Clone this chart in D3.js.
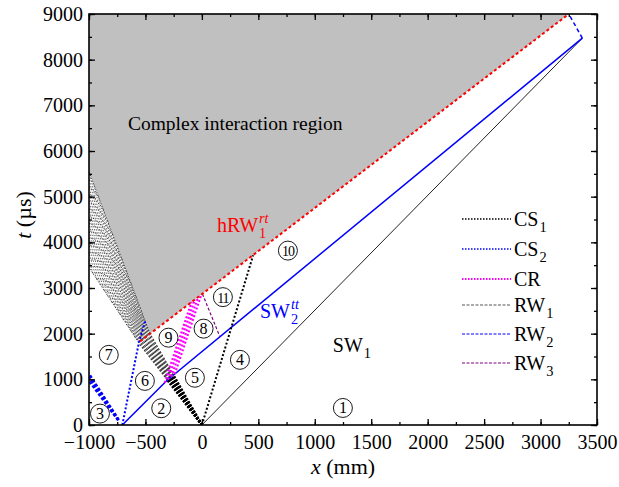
<!DOCTYPE html>
<html>
<head>
<meta charset="utf-8">
<script src="https://cdn.jsdelivr.net/npm/d3@7"></script>
<style>
  body { margin: 0; background: #fff; }
  text { font-family: "Liberation Serif", "Times New Roman", serif; }
</style>
</head>
<body>
<div id="chart"></div>
<script>
// ---- data (x in mm, t in µs) ----
const xTicks = [-1000, -500, 0, 500, 1000, 1500, 2000, 2500, 3000, 3500];
const yTicks = [0, 1000, 2000, 3000, 4000, 5000, 6000, 7000, 8000, 9000];

const sw1 = [[0, 0], [3370, 8470]];
const sw2 = [[-705, 0], [-310, 975], [3370, 8470]];
const hrw1 = [[-548, 1830], [3250, 9000]];
const topJoin = [[3370, 8470], [3250, 9000]];
const cs1 = [[0, 0], [454, 3717]];
const cs2 = [[-705, 0], [-558, 1805], [-500, 2300]];
const rw3 = [[5, 2870], [160, 1930]];
const greyRegion = [[-1000, 9000], [3250, 9000], [-460, 2000], [-1000, 5550]];

// RW1 fan from the origin, ends along the apex segment
const rw1FanEnds = [[-560, 1800], [-549, 1822], [-538, 1844], [-527, 1867], [-516, 1889],
                    [-504, 1911], [-493, 1933], [-482, 1956], [-471, 1978], [-460, 2000]];
// RW1 continued to the left wall: apex segment and wall span
const hatchApex = [[-560, 1800], [-460, 2000]];
const hatchWall = [3450, 5550];
const hatchCells = 13;

// CR fan: start x on SW2, constant slope up to hRW1
const crStartX = [-330, -300, -270, -240];
const crSlope = 7.4;

// RW2 fan near the left wall
const rw2Fan = [
  [[-745, 100], [-1000, 950]],
  [[-742, 104], [-1000, 1000]],
  [[-739, 108], [-1000, 1050]],
  [[-736, 112], [-1000, 1095]],
  [[-733, 116], [-1000, 1140]]
];

const zones = [
  ["1", 1249, 373], ["2", -360, 367], ["3", -903, 250], ["4", 337, 1427],
  ["5", -62, 1035], ["6", -505, 966], ["7", -825, 1536], ["8", 15, 2110],
  ["9", -296, 1912], ["10", 762, 3819], ["11", 186, 2800]
];

const legendItems = [
  ["CS", "1", "#000", "1.5,1.5", 1.5],
  ["CS", "2", "#0000ff", "1.5,1.5", 1.5],
  ["CR", "", "#ff00ff", "1.5,1.5", 2],
  ["RW", "1", "#555", "3,1.5", 1],
  ["RW", "2", "#0000ff", "3,1.5", 1],
  ["RW", "3", "#800080", "3,1.5", 1]
];
const legendY = [219, 249, 279, 305, 334, 363];

// ---- setup ----
const width = 619, height = 487;
const x = d3.scaleLinear().domain([-1000, 3500]).range([89, 597]);
const y = d3.scaleLinear().domain([0, 9000]).range([425, 14]);

const svg = d3.select("#chart").append("svg")
  .attr("width", width).attr("height", height);

svg.append("defs").append("clipPath").attr("id", "plot")
  .append("rect").attr("x", x(-1000)).attr("y", y(9000))
  .attr("width", x(3500) - x(-1000)).attr("height", y(0) - y(9000));

const line = d3.line().x(d => x(d[0])).y(d => y(d[1]));
const g = svg.append("g").attr("clip-path", "url(#plot)");

function draw(pts, color, dash, w) {
  return g.append("path").attr("d", line(pts)).attr("fill", "none")
    .attr("stroke", color).attr("stroke-width", w)
    .attr("stroke-dasharray", dash);
}

// segment intersection helper
function intersect(a, b, c, d) {
  const den = (b[0] - a[0]) * (d[1] - c[1]) - (b[1] - a[1]) * (d[0] - c[0]);
  if (Math.abs(den) < 1e-9) return null;
  const s = ((c[0] - a[0]) * (d[1] - c[1]) - (c[1] - a[1]) * (d[0] - c[0])) / den;
  const u = ((c[0] - a[0]) * (b[1] - a[1]) - (c[1] - a[1]) * (b[0] - a[0])) / den;
  if (s < 0 || s > 1 || u < 0 || u > 1) return null;
  return [a[0] + s * (b[0] - a[0]), a[1] + s * (b[1] - a[1])];
}
function hitPolyline(a, b, poly) {
  for (let i = 0; i < poly.length - 1; i++) {
    const p = intersect(a, b, poly[i], poly[i + 1]);
    if (p) return p;
  }
  return null;
}

// grey region
g.append("path").attr("d", line(greyRegion) + "Z").attr("fill", "#c0c0c0");

// RW1 hatch (bilinear lattice between apex segment and the wall)
const [E0, E1] = hatchApex;
const W0 = [-1000, hatchWall[0]], W1 = [-1000, hatchWall[1]];
function bil(u, v) {
  const a = [(1 - v) * E0[0] + v * E1[0], (1 - v) * E0[1] + v * E1[1]];
  const b = [(1 - v) * W0[0] + v * W1[0], (1 - v) * W0[1] + v * W1[1]];
  return [(1 - u) * a[0] + u * b[0], (1 - u) * a[1] + u * b[1]];
}
for (let k = 1; k < 2 * hatchCells; k++) {
  const c = k / hatchCells;
  const pts = d3.range(9).map(i => {
    const u = Math.max(0, c - 1) + (Math.min(1, c) - Math.max(0, c - 1)) * i / 8;
    return bil(u, c - u);
  });
  draw(pts, "#222", "1.5,1.5", 0.7);
}
for (let k = -hatchCells + 1; k < hatchCells; k++) {
  const c = k / hatchCells;
  const pts = d3.range(9).map(i => {
    const u = Math.max(0, c) + (Math.min(1, 1 + c) - Math.max(0, c)) * i / 8;
    return bil(u, u - c);
  });
  draw(pts, "#222", "1.5,1.5", 0.7);
}
draw([E0, W0], "#222", "1.5,1.5", 0.7);
draw([E1, W1], "#222", "1.5,1.5", 0.7);

// RW1 fan from origin: thick below SW2, thinner above
rw1FanEnds.forEach(e => {
  const p = hitPolyline([0, 0], e, sw2);
  draw([[0, 0], p], "#000", "2,1.6", 2.4);
  draw([p, e], "#333", "2,1.6", 1.2);
});

// RW2 fan
rw2Fan.forEach(s => draw(s, "#0000ff", "3,2", 1.6));

// main waves
draw(sw1, "#222", null, 1);
draw(sw2, "#0000ff", null, 1.5);
draw(cs2, "#0000ff", "2,2", 2);

// CR fan
crStartX.forEach(x0 => {
  const a = [x0, -1e5], b = [x0, 1e5];
  const s = hitPolyline(a, b, sw2);
  const far = [s[0] + 2000, s[1] + 2000 * crSlope];
  const e = hitPolyline(s, far, hrw1);
  draw([s, e], "#ff00ff", "2,2", 2.2);
});

draw(cs1, "#000", "2,2", 2);
draw(rw3, "#800080", "3,2", 1.2);
draw(hrw1, "#ff0000", "3,2.5", 2);
draw(topJoin, "#0000ff", "4,3", 1.5);

// ---- axes ----
const xMinor = d3.range(-1000, 3501, 250);
const yMinor = d3.range(0, 9001, 500);
const axes = svg.append("g");
const fmt = d3.format("d");

function styleAxis(sel) {
  sel.select(".domain").remove();
  sel.selectAll("line").attr("stroke", "#000").attr("stroke-width", 1.3);
  sel.selectAll("text").attr("fill", "#000")
    .style("font-family", '"Liberation Serif", "Times New Roman", serif')
    .attr("font-size", 20);
}

axes.append("g").attr("transform", `translate(0,${y(0)})`)
  .call(d3.axisBottom(x).tickValues(xMinor).tickSize(-3).tickFormat("")).call(styleAxis);
axes.append("g").attr("transform", `translate(0,${y(0)})`)
  .call(d3.axisBottom(x).tickValues(xTicks).tickSize(-6).tickPadding(10).tickFormat(fmt)).call(styleAxis);
axes.append("g").attr("transform", `translate(0,${y(9000)})`)
  .call(d3.axisTop(x).tickValues(xMinor).tickSize(-3).tickFormat("")).call(styleAxis);
axes.append("g").attr("transform", `translate(0,${y(9000)})`)
  .call(d3.axisTop(x).tickValues(xTicks).tickSize(-6).tickFormat("")).call(styleAxis);

axes.append("g").attr("transform", `translate(${x(-1000)},0)`)
  .call(d3.axisLeft(y).tickValues(yMinor).tickSize(-3).tickFormat("")).call(styleAxis);
axes.append("g").attr("transform", `translate(${x(-1000)},0)`)
  .call(d3.axisLeft(y).tickValues(yTicks).tickSize(-6).tickPadding(6).tickFormat(fmt))
  .call(styleAxis);
axes.append("g").attr("transform", `translate(${x(3500)},0)`)
  .call(d3.axisRight(y).tickValues(yMinor).tickSize(-3).tickFormat("")).call(styleAxis);
axes.append("g").attr("transform", `translate(${x(3500)},0)`)
  .call(d3.axisRight(y).tickValues(yTicks).tickSize(-6).tickFormat("")).call(styleAxis);

svg.append("rect")
  .attr("x", x(-1000)).attr("y", y(9000))
  .attr("width", x(3500) - x(-1000)).attr("height", y(0) - y(9000))
  .attr("fill", "none").attr("stroke", "#000").attr("stroke-width", 1.6);

// axis titles
const xt = svg.append("text").attr("x", 343).attr("y", 474)
  .attr("text-anchor", "middle").attr("font-size", 22);
xt.append("tspan").attr("font-style", "italic").text("x");
xt.append("tspan").text(" (mm)");

const yt = svg.append("text").attr("transform", "translate(31,215) rotate(-90)")
  .attr("text-anchor", "middle").attr("font-size", 22);
yt.append("tspan").attr("font-style", "italic").text("t");
yt.append("tspan").text(" (\u00b5s)");

// ---- annotations ----
svg.append("text").attr("x", x(-655)).attr("y", y(6453))
  .attr("font-size", 19.5).text("Complex interaction region");

function subsup(xp, yp, base, sub, sup, color, size) {
  const t = svg.append("text").attr("x", xp).attr("y", yp)
    .attr("font-size", size).attr("fill", color).text(base);
  const w = t.node().getComputedTextLength();
  if (sup) svg.append("text").attr("x", xp + w + 1).attr("y", yp - 9)
    .attr("font-size", size * 0.72).attr("font-style", "italic").attr("fill", color).text(sup);
  if (sub) svg.append("text").attr("x", xp + w + 1).attr("y", yp + 6)
    .attr("font-size", size * 0.72).attr("fill", color).text(sub);
}
subsup(x(133), y(4236), "hRW", "1", "rt", "#ff0000", 20);
subsup(x(514), y(2349), "SW", "2", "tt", "#0000ff", 20);
subsup(x(1160), y(1602), "SW", "1", null, "#000", 20);

// zone markers
const zg = svg.append("g");
zones.forEach(([lab, zx, zt]) => {
  zg.append("circle").attr("cx", x(zx)).attr("cy", y(zt)).attr("r", 9.5)
    .attr("fill", "none").attr("stroke", "#000").attr("stroke-width", 0.9);
  zg.append("text").attr("x", x(zx)).attr("y", y(zt) + 5.5)
    .attr("text-anchor", "middle").attr("font-size", lab.length > 1 ? 14 : 16)
    .attr("letter-spacing", lab.length > 1 ? -1 : 0).text(lab);
});

// legend
legendItems.forEach(([base, sub, color, dash, w], i) => {
  const ly = legendY[i];
  svg.append("line").attr("x1", 462).attr("x2", 511).attr("y1", ly).attr("y2", ly)
    .attr("stroke", color).attr("stroke-width", w).attr("stroke-dasharray", dash);
  subsup(514, ly + 7, base, sub, null, "#000", 20);
});
</script>
</body>
</html>
